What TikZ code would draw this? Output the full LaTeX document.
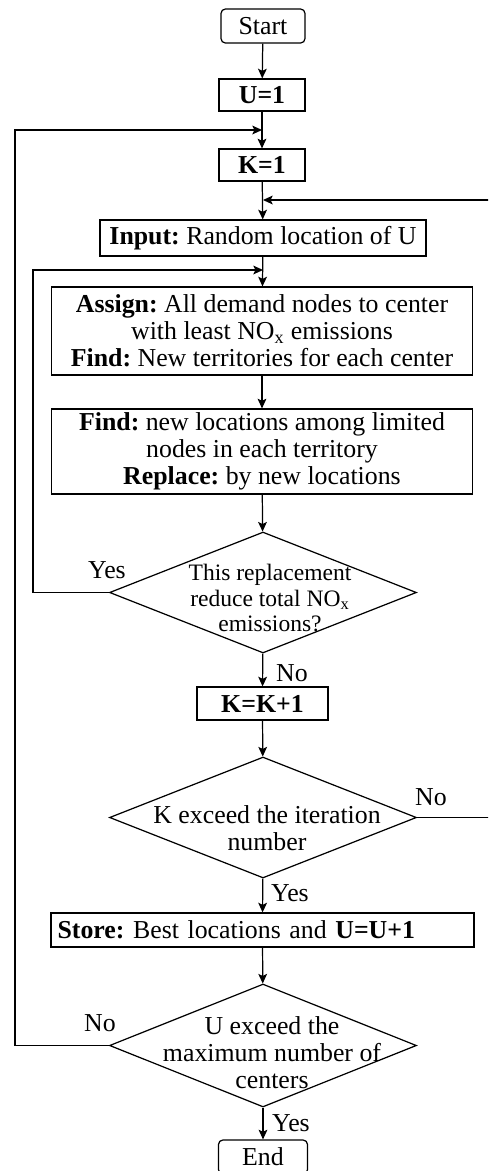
\documentclass[tikz,border=0pt]{standalone}
\usepackage{fontspec}
\setmainfont{Liberation Serif}
\usetikzlibrary{shapes.geometric, positioning, arrows.meta}
\frenchspacing

\begin{document}
\begin{tikzpicture}[x=0.02cm, y=-0.02cm, font=\fontsize{14.7pt}{15.3pt}\selectfont,
  block/.style={rectangle, draw, line width=0.7pt, inner sep=0pt, align=center},
  term/.style={block, rounded corners=2.5pt},
  decision/.style={diamond, draw, line width=0.7pt, inner sep=0pt, minimum width=6.14cm, minimum height=2.42cm},
  flow/.style={line width=0.7pt, -{Stealth[length=5.5pt, width=5pt, inset=1.2pt]}},
  lbl/.style={inner sep=0pt}]
  \clip (0,0) rectangle (488,1171);

  % main column
  \node[term, minimum width=1.68cm, minimum height=0.68cm] (start) at (263,26) {Start};
  \node[block, minimum width=1.72cm, minimum height=0.64cm] (u1) at (262,95) {\textbf{U=1}};
  \node[block, minimum width=1.72cm, minimum height=0.64cm] (k1) at (262,165) {\textbf{K=1}};
  \node[block, minimum width=6.52cm, minimum height=0.72cm] (input) at (263,238) {\textbf{Input:} Random location of U};
  \node[block, minimum width=8.42cm, minimum height=1.76cm] (assign) at (262,331)
    {\textbf{Assign:} All demand nodes to center\\ with least NO\textsubscript{x} emissions\\ \textbf{Find:} New territories for each center};
  \node[block, minimum width=8.42cm, minimum height=1.70cm] (find) at (262,451.5)
    {\textbf{Find:} new locations among limited\\ nodes in each territory\\ \textbf{Replace:} by new locations};
  \node[decision] (reduce) at (263,592.5) {};
  \node[align=center, inner sep=0pt, font=\fontsize{13.4pt}{14.4pt}\selectfont] (reducetxt) at (270,598)
    {This replacement\\ reduce total NO\textsubscript{x}\\ emissions?};
  \node[block, minimum width=2.62cm, minimum height=0.66cm] (kinc) at (262.5,703.5) {\textbf{K=K+1}};
  \node[decision] (kexceed) at (263,817.5) {};
  \node[align=center, inner sep=0pt] (kexceedtxt) at (267,828) {K exceed the iteration\\ number};
  \node[block, minimum width=8.46cm, minimum height=0.68cm, text width=8.2cm, align=left] (store) at (262.5,930)
    {\textbf{Store:} Best locations and \textbf{U=U+1}};
  \node[decision, minimum height=2.46cm] (uexceed) at (263,1045.5) {};
  \node[align=center, inner sep=0pt] (uexceedtxt) at (272,1053) {U exceed the\\ maximum number of\\ centers};
  \node[term, minimum width=1.78cm, minimum height=0.68cm] (end) at (263,1157) {End};

  % junctions for the loops
  \coordinate (j1) at (262,130);
  \coordinate (j2) at (263,200);
  \coordinate (j3) at (263,270);

  % labels
  \node[lbl] (yes1) at (107,570) {Yes};
  \node[lbl] (no1) at (292,673) {No};
  \node[lbl] (no2) at (431,797) {No};
  \node[lbl] (yes2) at (290,893) {Yes};
  \node[lbl] (no3) at (100,1023) {No};
  \node[lbl] (yes3) at (291,1123) {Yes};

  \draw[flow] (start) -- (u1);
  \draw[flow] (u1) -- (k1);
  \draw[flow] (k1) -- (input);
  \draw[flow] (input) -- (assign);
  \draw[flow] (assign) -- (find);
  \draw[flow] (find) -- (reduce);
  \draw[flow] (reduce) -- (kinc);
  \draw[flow] (kinc) -- (kexceed);
  \draw[flow] (kexceed) -- (store);
  \draw[flow] (store) -- (uexceed);
  \draw[flow] (uexceed) -- (end);

  % loops back
  \draw[flow] (reduce.west) -- ++(-76,0) |- (j3);
  \draw[flow] (kexceed.east) -- ++(75,0) |- (j2);
  \draw[flow] (uexceed.west) -- ++(-94,0) |- (j1);
\end{tikzpicture}
\end{document}
